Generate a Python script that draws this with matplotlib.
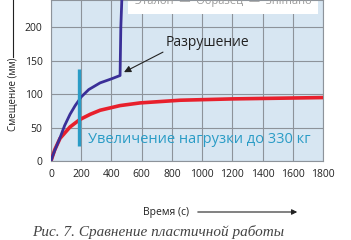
import matplotlib
matplotlib.use('Agg')
import matplotlib.pyplot as plt
from matplotlib.lines import Line2D
from matplotlib.patches import Rectangle, FancyArrowPatch

plt.rcParams['font.family'] = ['Open Sans', 'DejaVu Sans']

# data
blue_t = [0, 10, 25, 60, 90, 126, 160, 185, 200, 250, 325, 400, 457, 462, 470]
blue_y = [0, 7, 16, 35, 53, 70, 83, 91, 96, 107, 117, 123, 128, 200, 250]
red_t = [0, 10, 25, 60, 126, 190, 260, 325, 457, 590, 854, 1200, 1500, 1800]
red_y = [0, 7, 17, 34, 51, 62, 70, 76, 83, 87, 91, 93, 94, 95]
xticks = [0, 200, 400, 600, 800, 1000, 1200, 1400, 1600, 1800]
yticks = [0, 50, 100, 150, 200]
load_bar_t = 185
load_bar_y = [22, 137]

fig = plt.figure(figsize=(3.51, 2.40), dpi=100)
ax = fig.add_axes([0.1453, 0.329, 0.775, 0.671])
ax.set_facecolor('#d7e6f2')
ax.set_xlim(0, 1800)
ax.set_ylim(0, 241)
ax.set_xticks(xticks)
ax.set_yticks(yticks)
ax.grid(True, color='#8d939a', lw=0.8)
ax.set_axisbelow(True)
ax.tick_params(length=0, labelsize=7.5, colors='#222222')
ax.tick_params(axis='y', pad=6)
ax.tick_params(axis='x', pad=6)
for s in ax.spines.values():
    s.set_color('#8d939a')
    s.set_linewidth(0.8)

# partly cut-off legend box at the top
ax.add_patch(Rectangle((510, 219.5), 1257, 30, facecolor='white', edgecolor='none', zorder=2))
ax.text(1140, 235.5, 'Эталон  —  Образец  —  Shimano', ha='center', va='baseline',
        fontsize=8, color='#9a9a9a', zorder=3, clip_on=True)

ax.plot(red_t, red_y, color='#e8202c', lw=2.6, solid_capstyle='round', zorder=4)
ax.plot(blue_t, blue_y, color='#3a2f98', lw=2.0, zorder=5)
ax.plot([load_bar_t, load_bar_t], load_bar_y, color='#2a9cc6', lw=2.4, solid_capstyle='butt', zorder=6)

ax.text(761, 177, 'Разрушение', fontsize=10, color='#222222', va='center', ha='left')
ax.annotate('', xy=(483, 133), xytext=(741, 163),
            arrowprops=dict(arrowstyle='-|>', color='#222222', lw=0.8, shrinkA=0, shrinkB=0,
                            mutation_scale=10))
ax.text(245, 32, 'Увеличение нагрузки до 330 кг', fontsize=10.5, color='#2a9cc6',
        va='center', ha='left', zorder=6)

# axis labels with arrows
fig.text(13 / 351, 1 - 94 / 240, 'Смещение (мм)', rotation=90, ha='center', va='center',
         fontsize=7, color='#222222')
fig.add_artist(Line2D([13 / 351, 13 / 351], [1 - 57 / 240, 1.0], color='#222222', lw=0.8))
fig.text(166 / 351, 1 - 212 / 240, 'Время (с)', ha='center', va='center',
         fontsize=7.5, color='#222222')
fig.add_artist(FancyArrowPatch((195 / 351, 1 - 212 / 240), (300 / 351, 1 - 212 / 240),
                               transform=fig.transFigure, arrowstyle='-|>',
                               mutation_scale=8, color='#222222', lw=0.8))

fig.text(32 / 351, 1 - 232 / 240, 'Рис. 7. Сравнение пластичной работы', ha='left', va='center',
         fontsize=11, style='italic', family='Liberation Serif', color='#444444')

fig.savefig('out.png', dpi=100)
